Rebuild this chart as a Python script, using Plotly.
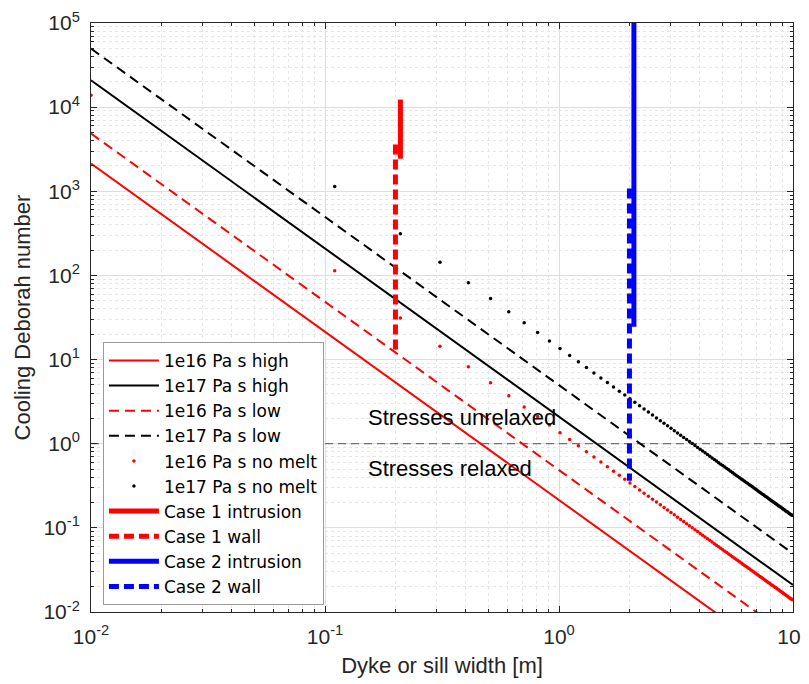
import plotly.graph_objects as go

# ---- data ----
width_ends = [0.01, 10]
d_1e16_high = [2140, 0.00214]
d_1e17_high = [20900, 0.0209]
d_1e16_low = [4860, 0.00486]
d_1e17_low = [49600, 0.0496]

width_nomelt = [0.01, 0.11, 0.21, 0.31, 0.41, 0.51, 0.61, 0.71, 0.81, 0.91,
                1.01, 1.11, 1.21, 1.31, 1.41, 1.51, 1.61, 1.71, 1.81, 1.91,
                2.01, 2.11, 2.21, 2.31, 2.41, 2.51, 2.61, 2.71, 2.81, 2.91,
                3.01, 3.11, 3.21, 3.31, 3.41, 3.51, 3.61, 3.71, 3.81, 3.91,
                4.01, 4.11, 4.21, 4.31, 4.41, 4.51, 4.61, 4.71, 4.81, 4.91,
                5.01, 5.11, 5.21, 5.31, 5.41, 5.51, 5.61, 5.71, 5.81, 5.91,
                6.01, 6.11, 6.21, 6.31, 6.41, 6.51, 6.61, 6.71, 6.81, 6.91,
                7.01, 7.11, 7.21, 7.31, 7.41, 7.51, 7.61, 7.71, 7.81, 7.91,
                8.01, 8.11, 8.21, 8.31, 8.41, 8.51, 8.61, 8.71, 8.81, 8.91,
                9.01, 9.11, 9.21, 9.31, 9.41, 9.51, 9.61, 9.71, 9.81, 9.91]
d_1e16_nomelt = [13800, 114.0, 31.29, 14.36, 8.209, 5.306, 3.709, 2.738, 2.103, 1.666,
                 1.353, 1.120, 0.9426, 0.8042, 0.6941, 0.6052, 0.5324, 0.4719, 0.4212, 0.3783,
                 0.3416, 0.3100, 0.2826, 0.2586, 0.2376, 0.2190, 0.2026, 0.1879, 0.1748, 0.1630,
                 0.1523, 0.1427, 0.1339, 0.1260, 0.1187, 0.1120, 0.1059, 0.1003, 0.0951, 0.0903,
                 0.0858, 0.0817, 0.0779, 0.0743, 0.0710, 0.0678, 0.0649, 0.0622, 0.0596, 0.0572,
                 0.0550, 0.0528, 0.0508, 0.0489, 0.0472, 0.0455, 0.0438, 0.0423, 0.0409, 0.0395,
                 0.0382, 0.0370, 0.0358, 0.0347, 0.0336, 0.0326, 0.0316, 0.0307, 0.0298, 0.0289,
                 0.0281, 0.0273, 0.0265, 0.0258, 0.0251, 0.0245, 0.0238, 0.0232, 0.0226, 0.0221,
                 0.0215, 0.0210, 0.0205, 0.0200, 0.0195, 0.0191, 0.0186, 0.0182, 0.0178, 0.0174,
                 0.0170, 0.0166, 0.0163, 0.0159, 0.0156, 0.0153, 0.0149, 0.0146, 0.0143, 0.0141]
d_1e17_nomelt = [138000, 1140, 312.9, 143.6, 82.09, 53.06, 37.09, 27.38, 21.03, 16.66,
                 13.53, 11.20, 9.426, 8.042, 6.941, 6.052, 5.324, 4.719, 4.212, 3.783,
                 3.416, 3.100, 2.826, 2.586, 2.376, 2.190, 2.026, 1.879, 1.748, 1.630,
                 1.523, 1.427, 1.339, 1.260, 1.187, 1.120, 1.059, 1.003, 0.951, 0.903,
                 0.858, 0.817, 0.779, 0.743, 0.710, 0.678, 0.649, 0.622, 0.596, 0.572,
                 0.550, 0.528, 0.508, 0.489, 0.472, 0.455, 0.438, 0.423, 0.409, 0.395,
                 0.382, 0.370, 0.358, 0.347, 0.336, 0.326, 0.316, 0.307, 0.298, 0.289,
                 0.281, 0.273, 0.265, 0.258, 0.251, 0.245, 0.238, 0.232, 0.226, 0.221,
                 0.215, 0.210, 0.205, 0.200, 0.195, 0.191, 0.186, 0.182, 0.178, 0.174,
                 0.170, 0.166, 0.163, 0.159, 0.156, 0.153, 0.149, 0.146, 0.143, 0.141]

case1_intrusion_w = [0.21, 0.21]
case1_intrusion_d = [12300, 2440]
case1_wall_w = [0.20, 0.20]
case1_wall_d = [3600, 12.4]
case2_intrusion_w = [2.09, 2.09]
case2_intrusion_d = [100000, 24.5]
case2_wall_w = [2.0, 2.0]
case2_wall_d = [1080, 0.363]

threshold_d = [1, 1]

x_tickvals = [0.01, 0.1, 1, 10]
x_ticktext = ["10<sup>-2</sup>", "10<sup>-1</sup>", "10<sup>0</sup>", "10<sup>1</sup>"]
y_tickvals = [0.01, 0.1, 1, 10, 100, 1000, 10000, 100000]
y_ticktext = ["10<sup>-2</sup>", "10<sup>-1</sup>", "10<sup>0</sup>", "10<sup>1</sup>",
              "10<sup>2</sup>", "10<sup>3</sup>", "10<sup>4</sup>", "10<sup>5</sup>"]

FONT = "Liberation Sans, Arial, Helvetica, sans-serif"
LEGFONT = "DejaVu Sans, Liberation Sans, sans-serif"
AX = "#262626"
RED = "#ff0000"
BLUE = "#0000ff"
BLACK = "#000000"

fig = go.Figure()

fig.add_trace(go.Scatter(x=width_ends, y=threshold_d, mode="lines", showlegend=False,
                         line=dict(color="#555555", width=1, dash="8px,5px"), hoverinfo="skip"))

fig.add_trace(go.Scatter(x=width_ends, y=d_1e16_high, mode="lines", name="1e16 Pa s high",
                         line=dict(color=RED, width=2)))
fig.add_trace(go.Scatter(x=width_ends, y=d_1e17_high, mode="lines", name="1e17 Pa s high",
                         line=dict(color=BLACK, width=2)))
fig.add_trace(go.Scatter(x=width_ends, y=d_1e16_low, mode="lines", name="1e16 Pa s low",
                         line=dict(color=RED, width=2, dash="10px,6px")))
fig.add_trace(go.Scatter(x=width_ends, y=d_1e17_low, mode="lines", name="1e17 Pa s low",
                         line=dict(color=BLACK, width=2, dash="10px,6px")))
fig.add_trace(go.Scatter(x=width_nomelt, y=d_1e16_nomelt, mode="markers", name="1e16 Pa s no melt",
                         marker=dict(color=RED, size=3.5)))
fig.add_trace(go.Scatter(x=width_nomelt, y=d_1e17_nomelt, mode="markers", name="1e17 Pa s no melt",
                         marker=dict(color=BLACK, size=3.5)))
fig.add_trace(go.Scatter(x=case1_intrusion_w, y=case1_intrusion_d, mode="lines", name="Case 1 intrusion",
                         line=dict(color=RED, width=5)))
fig.add_trace(go.Scatter(x=case1_wall_w, y=case1_wall_d, mode="lines", name="Case 1 wall",
                         line=dict(color=RED, width=5, dash="10px,5px")))
fig.add_trace(go.Scatter(x=case2_intrusion_w, y=case2_intrusion_d, mode="lines", name="Case 2 intrusion",
                         line=dict(color=BLUE, width=5)))
fig.add_trace(go.Scatter(x=case2_wall_w, y=case2_wall_d, mode="lines", name="Case 2 wall",
                         line=dict(color=BLUE, width=5, dash="10px,5px")))

axis_common = dict(
    type="log",
    tickmode="array",
    automargin=False,
    showline=True, linecolor=AX, linewidth=1, mirror="allticks",
    ticks="inside", ticklen=6, tickcolor=AX, tickwidth=1,
    showgrid=True, gridcolor="#dedede", gridwidth=1,
    zeroline=False,
    tickfont=dict(family=FONT, size=21, color=AX),
    ticklabelstandoff=6,
    minor=dict(dtick="D1", ticks="inside", ticklen=3, tickcolor=AX,
               showgrid=True, gridcolor="#e6e6e6", griddash="dot", gridwidth=1),
)

fig.update_xaxes(**axis_common, range=[-2, 1], tickvals=x_tickvals, ticktext=x_ticktext,
                 title=dict(text="Dyke or sill width [m]", font=dict(family=FONT, size=22, color=AX),
                            standoff=10))
fig.update_yaxes(**axis_common, range=[-2, 5], tickvals=y_tickvals, ticktext=y_ticktext,
                 title=dict(text="Cooling Deborah number", font=dict(family=FONT, size=22, color=AX),
                            standoff=6))

fig.add_annotation(x=-0.824, y=0.31, xref="x", yref="y", text="Stresses unrelaxed",
                   showarrow=False, xanchor="left", yanchor="middle",
                   font=dict(family=FONT, size=22, color="#000000"))
fig.add_annotation(x=-0.824, y=-0.30, xref="x", yref="y", text="Stresses relaxed",
                   showarrow=False, xanchor="left", yanchor="middle",
                   font=dict(family=FONT, size=22, color="#000000"))

# page body adds an 8px offset, so the figure is 8px smaller and margins shifted
fig.update_layout(
    width=801, height=676,
    margin=dict(l=83, r=16, t=15, b=72),
    paper_bgcolor="white", plot_bgcolor="white",
    font=dict(family=FONT, color=AX),
    legend=dict(x=0.017, y=0.012, xanchor="left", yanchor="bottom",
                bgcolor="white", bordercolor="#9a9a9a", borderwidth=1,
                font=dict(family=LEGFONT, size=17, color="#000000"),
                itemwidth=50, tracegroupgap=0, entrywidth=170),
)

fig.write_html("out.html")
